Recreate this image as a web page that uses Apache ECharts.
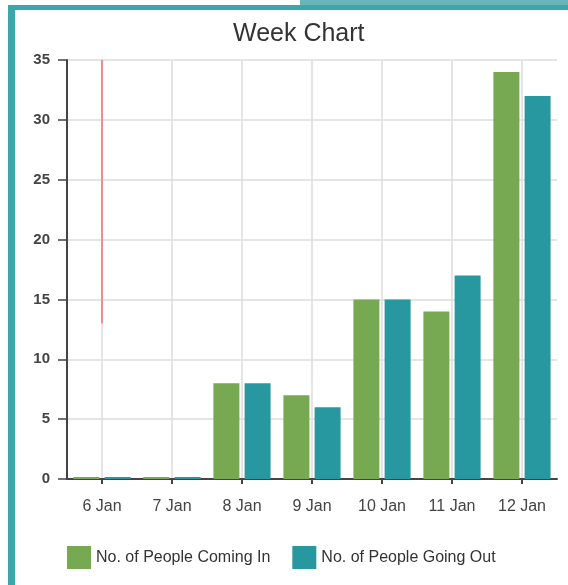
<!DOCTYPE html>
<html>
<head>
<meta charset="utf-8">
<title>Week Chart</title>
<script src="https://cdn.jsdelivr.net/npm/echarts@6/dist/echarts.min.js"></script>
<style>
    html, body { margin: 0; padding: 0; background: #fff; }
    #chart { width: 568px; height: 585px; }
</style>
</head>
<body>
<div id="chart"></div>
<script>
// 图表数据
var days = ['6 Jan', '7 Jan', '8 Jan', '9 Jan', '10 Jan', '11 Jan', '12 Jan'];
var comingIn = [0, 0, 8, 7, 15, 14, 34];
var goingOut = [0, 0, 8, 6, 15, 17, 32];
var seriesNames = ['No. of People Coming In', 'No. of People Going Out'];
// 红色竖线 (6 Jan)
var markDay = '6 Jan';
var markRange = [13, 35];

var green = '#77a953';
var teal = '#2797a0';

//边框
function frameGraphics() {
    return [
        { type: 'rect', shape: { x: 300, y: 0, width: 268, height: 5 }, style: { fill: '#6ab5ba' } },
        { type: 'rect', shape: { x: 8, y: 5, width: 560, height: 5 }, style: { fill: '#3aa7ab' } },
        { type: 'rect', shape: { x: 8, y: 5, width: 7, height: 580 }, style: { fill: '#3aa7ab' } }
    ];
}

function initChart() {
    var myChart = echarts.init(document.getElementById('chart'));
    var option = {
        animation: false,
        backgroundColor: '#fff',
        title: {
            text: 'Week Chart',
            left: 228,
            top: 17,
            textStyle: { fontFamily: 'Liberation Sans', fontSize: 25, fontWeight: 'normal', color: '#333' }
        },
        graphic: frameGraphics(),
        legend: {
            left: 62,
            top: 541,
            itemWidth: 24,
            itemHeight: 23,
            itemGap: 22,
            icon: 'rect',
            textStyle: { fontFamily: 'Liberation Sans', fontSize: 16, color: '#333' },
            data: seriesNames
        },
        grid: { left: 67, right: 11, top: 60, bottom: 106, outerBoundsMode: 'none' },
        xAxis: {
            type: 'category',
            data: days,
            axisLine: { lineStyle: { color: '#444', width: 2 } },
            axisTick: { show: true, alignWithLabel: true, length: 5, lineStyle: { color: '#444', width: 2 } },
            axisLabel: { fontFamily: 'Liberation Sans', fontSize: 16, color: '#444', margin: 20 },
            splitLine: { show: true, alignWithLabel: true, lineStyle: { color: '#dcdcdc', width: 1.5 } }
        },
        yAxis: {
            type: 'value',
            min: 0,
            max: 35,
            interval: 5,
            axisLine: { show: true, lineStyle: { color: '#444', width: 2 } },
            axisTick: { show: true, length: 9, lineStyle: { color: '#444', width: 1.5 } },
            axisLabel: { fontFamily: 'Liberation Sans', fontSize: 15, fontWeight: 'bold', color: '#444', margin: 17 },
            splitLine: { show: true, lineStyle: { color: '#dcdcdc', width: 1.5 } }
        },
        series: [{
            name: seriesNames[0],
            type: 'bar',
            data: comingIn,
            barWidth: 26,
            barGap: '20%',
            barMinHeight: 2,
            itemStyle: { color: green }
        }, {
            name: seriesNames[1],
            type: 'bar',
            data: goingOut,
            barWidth: 26,
            barGap: '20%',
            barMinHeight: 2,
            itemStyle: { color: teal }
        }, {
            // 红色竖线
            name: 'marker',
            type: 'line',
            data: [[markDay, markRange[0]], [markDay, markRange[1]]],
            symbol: 'none',
            silent: true,
            lineStyle: { color: '#f08c8c', width: 2 },
            z: 3
        }]
    };
    myChart.setOption(option);
}

initChart();
</script>
</body>
</html>
